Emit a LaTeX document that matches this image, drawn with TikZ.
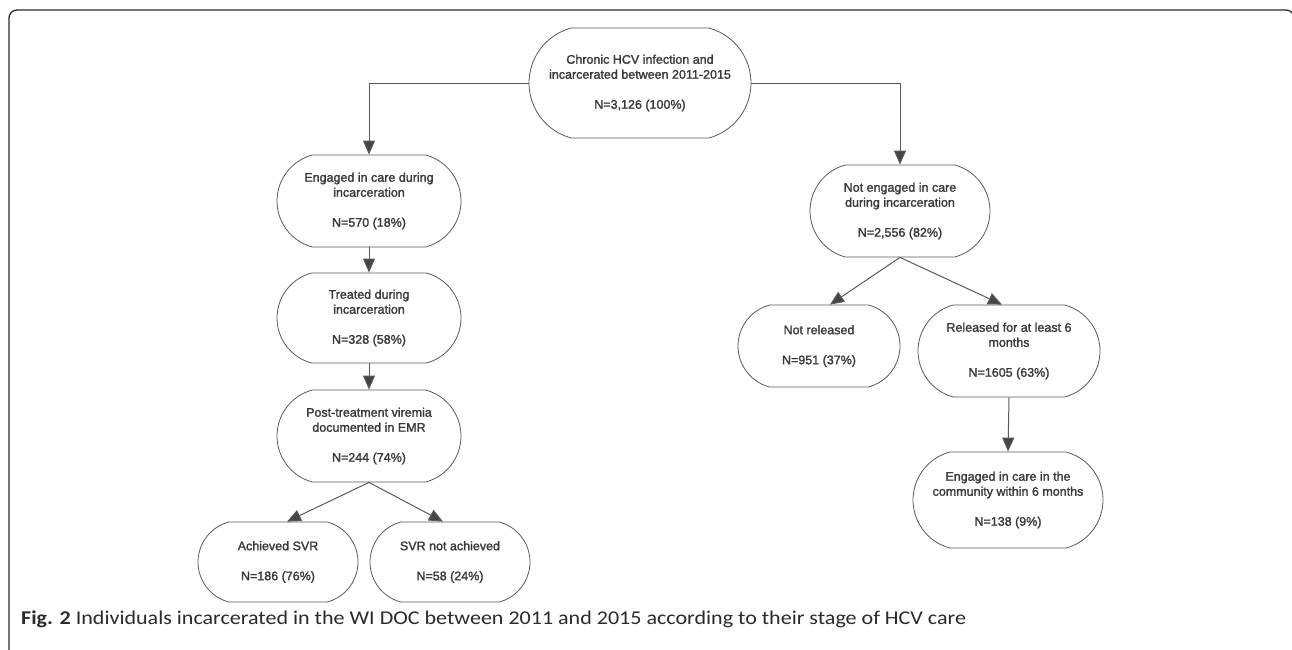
\documentclass[tikz,border=0pt]{standalone}
\usepackage{fontspec}
\setmainfont{Liberation Sans}
\newfontfamily\nodefont[FakeBold=1.5]{Liberation Sans}
\newfontfamily\capfont{Carlito}
\usetikzlibrary{shapes.misc,arrows.meta,calc}
\definecolor{txtgray}{HTML}{383838}
\definecolor{linegray}{HTML}{5A5A5A}
\definecolor{arrgray}{HTML}{454545}
\definecolor{framegray}{HTML}{2A2A2A}
\tikzset{
  box/.style={rounded rectangle, rounded rectangle arc length=150, draw=linegray, line width=0.8pt,
    align=center, text=txtgray, font=\nodefont\fontsize{12.5}{15}\selectfont, inner sep=0pt, fill=white},
  arr/.style={draw=linegray, line width=1pt, -{Triangle[width=12pt,length=14pt,fill=arrgray]}},
}
\begin{document}
\begin{tikzpicture}[x=1pt,y=-1pt]
\useasboundingbox (0,0) rectangle (1292,649);
\begin{scope}
\clip (0,0) rectangle (1292,649);
\draw[framegray, line width=1.3pt, rounded corners=8pt] (9,10) rectangle (1294,720);
\end{scope}

\node[box, minimum width=222pt, minimum height=110pt] (top) at (640,83)
  {Chronic HCV infection and\\incarcerated between 2011-2015\\[15pt]N=3,126 (100\%)};
\node[box, minimum width=184pt, minimum height=92pt] (eng) at (369,201)
  {Engaged in care during\\incarceration\\[15pt]N=570 (18\%)};
\node[box, minimum width=184pt, minimum height=90pt] (trt) at (369,318)
  {Treated during\\incarceration\\[15pt]N=328 (58\%)};
\node[box, minimum width=184pt, minimum height=92pt] (post) at (369,436)
  {Post-treatment viremia\\documented in EMR\\[15pt]N=244 (74\%)};
\node[box, minimum width=160pt, minimum height=80pt] (ach) at (278,562)
  {Achieved SVR\\[15pt]N=186 (76\%)};
\node[box, minimum width=160pt, minimum height=80pt] (svr) at (450,562)
  {SVR not achieved\\[15pt]N=58 (24\%)};
\node[box, minimum width=180pt, minimum height=92pt] (ne) at (900,211)
  {Not engaged in care\\during incarceration\\[15pt]N=2,556 (82\%)};
\node[box, minimum width=162pt, minimum height=82pt] (nr) at (819,346)
  {Not released\\[15pt]N=951 (37\%)};
\node[box, minimum width=182pt, minimum height=92pt] (rel) at (1009,351)
  {Released for at least 6\\months\\[15pt]N=1605 (63\%)};
\node[box, minimum width=190pt, minimum height=96pt] (com) at (1008,500)
  {Engaged in care in the\\community within 6 months\\[15pt]N=138 (9\%)};

\draw[arr] (top.west) -| (eng.north);
\draw[arr] (top.east) -| (ne.north);
\draw[arr] (eng.south) -- (trt.north);
\draw[arr] (trt.south) -- (post.north);
\draw[arr] (post.south) -- ([xshift=9pt]ach.north);
\draw[arr] (post.south) -- ([xshift=-7pt]svr.north);
\draw[arr] (ne.south) -- ([xshift=11pt]nr.north);
\draw[arr] (ne.south) -- ([xshift=-7pt]rel.north);
\draw[arr] (rel.south) -- (com.north);

\node[anchor=base west, inner sep=0pt, text=framegray, font=\capfont\fontsize{19.5}{21}\selectfont] (cap) at (21,624)
  {\scalebox{1.13}[1]{\textbf{Fig. 2} Individuals incarcerated in the WI DOC between 2011 and 2015 according to their stage of HCV care}};
\end{tikzpicture}
\end{document}
